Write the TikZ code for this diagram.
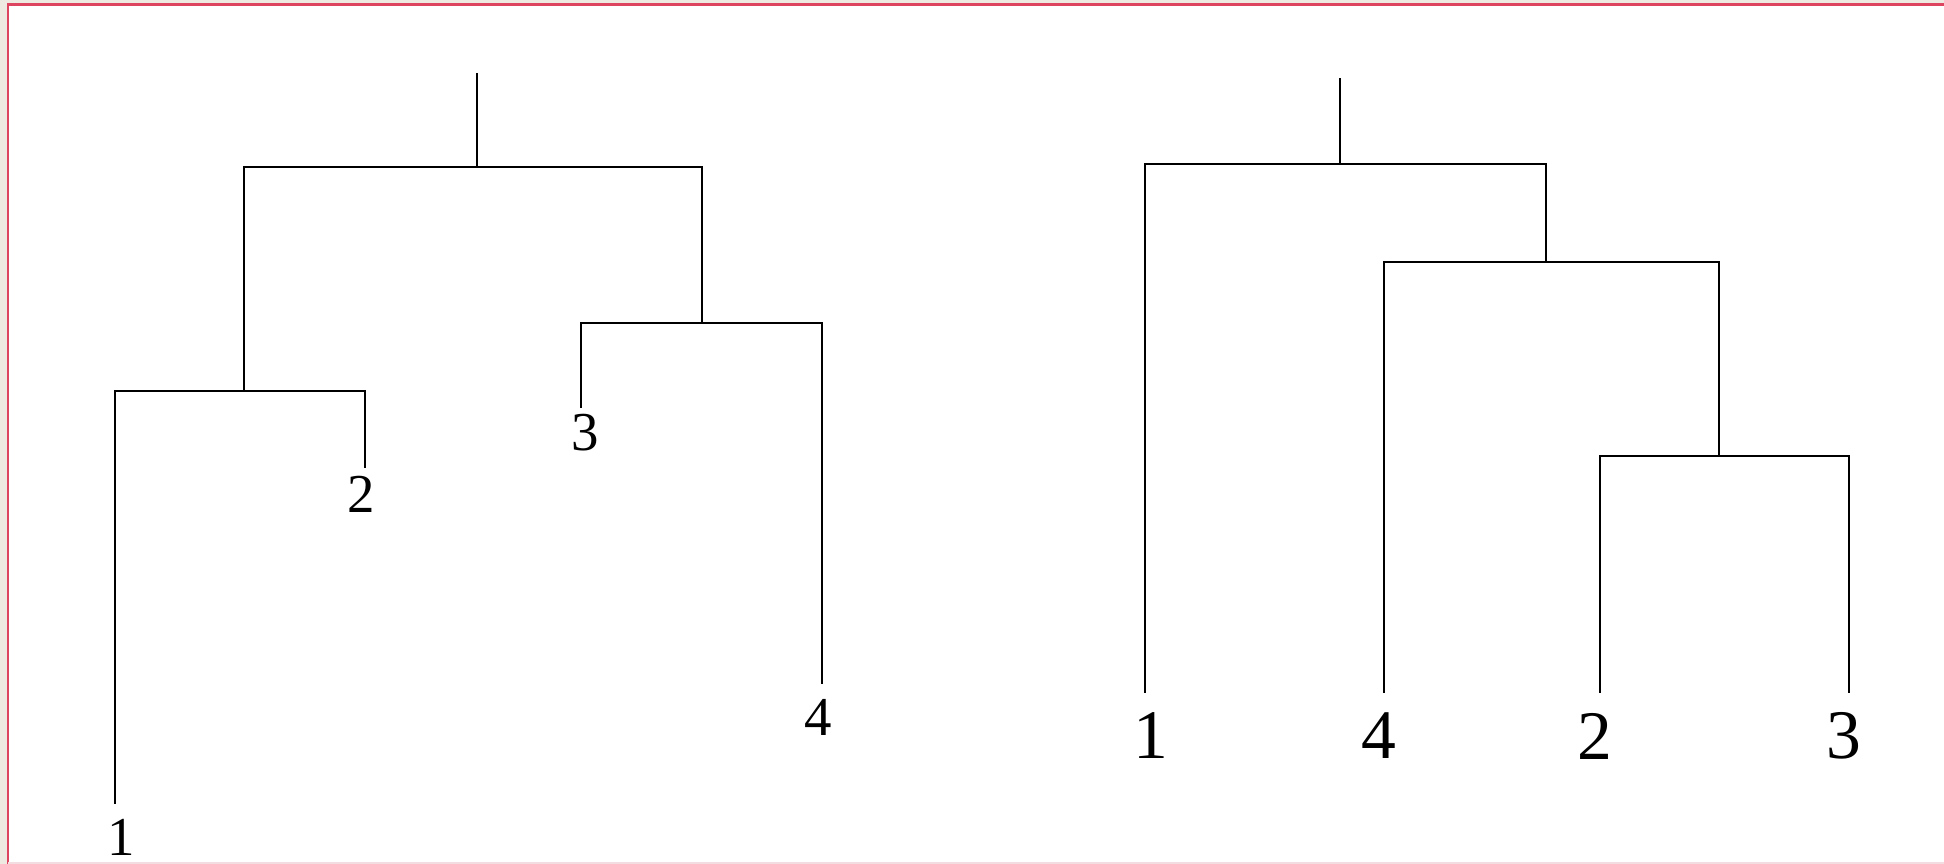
\documentclass[tikz,border=0pt]{standalone}
\usepackage{fontspec}
\setmainfont{Liberation Serif}
\usepackage{tikz}
\usetikzlibrary{positioning}
\definecolor{framered}{HTML}{DC4460}
\definecolor{framebg}{HTML}{EEEAE2}
\definecolor{framepink}{HTML}{F4DDE1}
\tikzset{
    link/.style={draw, line width=0.45pt},
    leaf/.style={inner sep=0pt, font=\fontsize{15.6}{18}\selectfont},
    bigleaf/.style={inner sep=0pt, font=\fontsize{19.8}{22}\selectfont}
}

\begin{document}
\begin{tikzpicture}
    \useasboundingbox (0,0) rectangle (19.44,8.64);
    % frame
    \fill[framebg] (0,0) rectangle (19.44,8.64);
    \fill[white] (0.082,0) rectangle (19.44,8.595);
    \draw[framered, line width=0.65pt] (0.082,0) -- (0.082,8.595) -- (19.44,8.595);
    \draw[framepink, line width=0.4pt] (0.082,0.01) -- (19.44,0.01);

    % left tree: joins
    \coordinate (top) at (4.77,7.91);
    \coordinate (r) at (4.77,6.97);
    \coordinate (a) at (2.44,4.73);
    \coordinate (b) at (7.02,5.41);
    % left tree: leaf ends
    \coordinate (t1) at (1.15,0.60);
    \coordinate (t2) at (3.65,3.96);
    \coordinate (t3) at (5.81,4.56);
    \coordinate (t4) at (8.22,1.80);
    % left tree: labels
    \node[leaf] (l1) at (1.21,0.27) {1};
    \node[leaf] (l2) at (3.61,3.70) {2};
    \node[leaf] (l3) at (5.85,4.31) {3};
    \node[leaf] (l4) at (8.185,1.47) {4};

    % left tree: branches
    \draw[link] (top) -- (r);
    \draw[link] (a) |- (r) -| (b);
    \draw[link] (t1) |- (a) -| (t2);
    \draw[link] (t3) |- (b) -| (t4);

    % right tree: joins
    \coordinate (top2) at (13.40,7.86);
    \coordinate (R) at (13.40,7.00);
    \coordinate (P) at (15.46,6.02);
    \coordinate (Q) at (17.19,4.08);
    % right tree: leaf ends
    \coordinate (s1) at (11.45,1.71);
    \coordinate (s4) at (13.84,1.71);
    \coordinate (s2) at (16.00,1.71);
    \coordinate (s3) at (18.49,1.71);
    % right tree: labels
    \node[bigleaf] (m1) at (11.51,1.28) {1};
    \node[bigleaf] (m4) at (13.785,1.28) {4};
    \node[bigleaf] (m2) at (15.95,1.28) {2};
    \node[bigleaf] (m3) at (18.44,1.28) {3};

    % right tree: branches
    \draw[link] (top2) -- (R);
    \draw[link] (s1) |- (R) -| (P);
    \draw[link] (s4) |- (P) -| (Q);
    \draw[link] (s2) |- (Q) -| (s3);
\end{tikzpicture}
\end{document}
